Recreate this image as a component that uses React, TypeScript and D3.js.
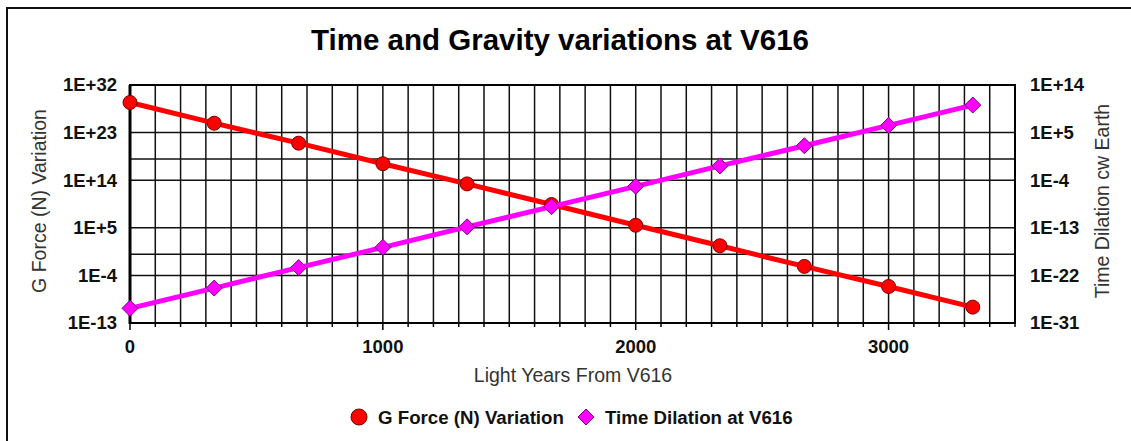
import { useEffect, useRef } from 'react';
import * as d3 from 'd3';

// light years from V616, one point per step
const years = [0, 333, 667, 1000, 1333, 1667, 2000, 2333, 2667, 3000, 3333];
// G force (N) variation, left axis
const gForce = [5e28, 6e24, 1e21, 1.3e17, 2e13, 2.5e9, 3e5, 40, 5e-3, 8e-7, 1e-10];
// time dilation compared with Earth, right axis
const timeDilation = [6e-29, 4e-25, 3e-21, 2e-17, 1.5e-13, 1e-9, 7e-6, 5e-2, 330, 2.3e6, 1.6e10];

const xTickLabels = [0, 1000, 2000, 3000];
const leftTickExp = [-13, -4, 5, 14, 23, 32];
const rightTickExp = [-31, -22, -13, -4, 5, 14];

const FONT = '"Liberation Sans", Arial, sans-serif';
const sci = (e: number) => `1E${e >= 0 ? '+' : ''}${e}`;

export default function App() {
  const ref = useRef<SVGSVGElement>(null);
  const width = 1131;
  const height = 441;

  useEffect(() => {
    if (!ref.current) return;
    const svg = d3.select(ref.current);
    svg.selectAll('*').remove();

    const left = 130, right = 1015, top = 85, bottom = 323;
    const x = d3.scaleLinear().domain([0, 3500]).range([left, right]);
    const yL = d3.scaleLog().domain([1e-13, 1e32]).range([bottom, top]);
    const yR = d3.scaleLog().domain([1e-31, 1e14]).range([bottom, top]);

    svg.append('rect').attr('width', width).attr('height', height).attr('fill', '#fff');
    // outer chart frame, cut off by the picture on the right and bottom
    svg.append('rect').attr('x', 7).attr('y', 8).attr('width', 1200).attr('height', 500)
      .attr('fill', 'none').attr('stroke', '#111').attr('stroke-width', 2);

    svg.append('text').attr('x', 560).attr('y', 50).attr('text-anchor', 'middle')
      .attr('font-family', FONT).attr('font-weight', 700).attr('font-size', 29.5).attr('fill', '#000')
      .text('Time and Gravity variations at V616');

    const grid = svg.append('g').attr('stroke', '#111').attr('stroke-width', 1.5);
    grid.selectAll('line.v').data(d3.range(100, 3500, 100)).enter().append('line')
      .attr('x1', (d) => x(d)).attr('x2', (d) => x(d)).attr('y1', top).attr('y2', bottom);
    const hLines = [
      ...leftTickExp.map((e) => yL(10 ** e)),
      yL(1),
      yR(1),
    ];
    grid.selectAll('line.h').data(hLines).enter().append('line')
      .attr('x1', left).attr('x2', right).attr('y1', (d) => d).attr('y2', (d) => d);

    svg.append('rect').attr('x', left).attr('y', top).attr('width', right - left).attr('height', bottom - top)
      .attr('fill', 'none').attr('stroke', '#000').attr('stroke-width', 2);
    svg.append('line').attr('x1', left).attr('x2', left).attr('y1', top).attr('y2', bottom + 1)
      .attr('stroke', '#000').attr('stroke-width', 3);

    // x ticks
    const xa = svg.append('g').attr('stroke', '#000').attr('stroke-width', 1.5);
    xa.selectAll('line').data(d3.range(0, 3501, 100)).enter().append('line')
      .attr('x1', (d) => x(d)).attr('x2', (d) => x(d)).attr('y1', bottom)
      .attr('y2', (d) => bottom + (d % 1000 === 0 ? 7 : 4));

    svg.append('g').selectAll('text').data(xTickLabels).enter().append('text')
      .attr('x', (d) => x(d)).attr('y', 353).attr('text-anchor', 'middle')
      .attr('font-family', FONT).attr('font-weight', 700).attr('font-size', 18.5).attr('fill', '#111')
      .text((d) => String(d));

    svg.append('g').selectAll('text').data(leftTickExp).enter().append('text')
      .attr('x', 117).attr('y', (d) => yL(10 ** d)).attr('dy', '0.35em').attr('text-anchor', 'end')
      .attr('font-family', FONT).attr('font-weight', 700).attr('font-size', 18.5).attr('fill', '#111')
      .text(sci);

    svg.append('g').selectAll('text').data(rightTickExp).enter().append('text')
      .attr('x', 1030).attr('y', (d) => yR(10 ** d)).attr('dy', '0.35em').attr('text-anchor', 'start')
      .attr('font-family', FONT).attr('font-weight', 700).attr('font-size', 18.5).attr('fill', '#111')
      .text(sci);

    const axisTitle = (tx: number, ty: number, rot: number, label: string) =>
      svg.append('text').attr('transform', `translate(${tx},${ty}) rotate(${rot})`)
        .attr('text-anchor', 'middle').attr('font-family', FONT).attr('font-size', 19.5).attr('fill', '#333')
        .text(label);
    axisTitle(46, 201, -90, 'G Force (N) Variation');
    axisTitle(1109, 201, -90, 'Time Dilation cw Earth');
    axisTitle(573, 382, 0, 'Light Years From V616');

    const idx = d3.range(years.length);
    const redLine = d3.line<number>().x((i) => x(years[i])).y((i) => yL(gForce[i]));
    const pinkLine = d3.line<number>().x((i) => x(years[i])).y((i) => yR(timeDilation[i]));
    const diamond = (r: number) => `M0,${-r}L${r},0L0,${r}L${-r},0Z`;

    svg.append('path').attr('d', redLine(idx)).attr('fill', 'none').attr('stroke', '#ff0000').attr('stroke-width', 5);
    svg.append('g').selectAll('circle').data(idx).enter().append('circle')
      .attr('cx', (i) => x(years[i])).attr('cy', (i) => yL(gForce[i])).attr('r', 7)
      .attr('fill', '#ff0000').attr('stroke', '#7a0000').attr('stroke-width', 1);

    svg.append('path').attr('d', pinkLine(idx)).attr('fill', 'none').attr('stroke', '#ff00ff').attr('stroke-width', 5);
    svg.append('g').selectAll('path').data(idx).enter().append('path')
      .attr('transform', (i) => `translate(${x(years[i])},${yR(timeDilation[i])})`)
      .attr('d', diamond(8)).attr('fill', '#ff00ff').attr('stroke', '#800080').attr('stroke-width', 1);

    // legend
    const lg = svg.append('g').attr('font-family', FONT).attr('font-weight', 700).attr('font-size', 18.7).attr('fill', '#111');
    lg.append('circle').attr('cx', 359).attr('cy', 417).attr('r', 8)
      .attr('fill', '#ff0000').attr('stroke', '#7a0000').attr('stroke-width', 1);
    lg.append('text').attr('x', 378).attr('y', 424).text('G Force (N) Variation');
    lg.append('path').attr('transform', 'translate(586,417)').attr('d', diamond(8))
      .attr('fill', '#ff00ff').attr('stroke', '#800080').attr('stroke-width', 1);
    lg.append('text').attr('x', 605).attr('y', 424).text('Time Dilation at V616');
  }, []);

  return (
    <svg ref={ref} width={width} height={height}
      style={{ position: 'absolute', left: 0, top: 0, display: 'block' }} />
  );
}
